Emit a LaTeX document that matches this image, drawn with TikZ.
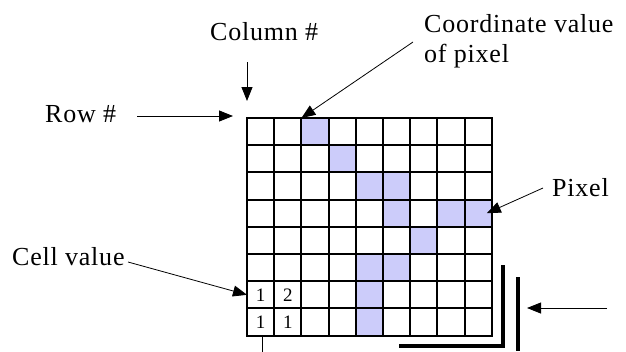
\documentclass[tikz,border=0pt]{standalone}
\usepackage{fontspec}
\setmainfont{Liberation Serif}
\newfontfamily\labelfont{Liberation Serif}[LetterSpace=3]
\usetikzlibrary{arrows.meta, positioning, backgrounds, calc}
\definecolor{pixelblue}{RGB}{204,204,250}

\begin{document}
\begin{tikzpicture}[
    x=1pt, y=-1pt,
    cellbox/.style={rectangle, minimum width=27.2pt, minimum height=27.2pt,
                    inner sep=0pt, outer sep=0pt},
    gridline/.style={line width=2pt, line cap=rect},
    digit/.style={inner sep=0pt, font=\fontsize{19}{19}\selectfont},
    caption/.style={anchor=base west, inner sep=0pt, align=left,
                    font=\labelfont\fontsize{26}{30}\selectfont},
    pointer/.style={-{Triangle[length=14pt,width=11pt]}, line width=0.8pt},
    heavy/.style={line width=3.6pt},
]
\useasboundingbox (0,0) rectangle (626,351);

% ==========================================================
% Raster grid: 9 columns x 8 rows
% ==========================================================
\foreach \i in {0,...,8}
  \foreach \j in {0,...,7}
    \node[cellbox] (c-\i-\j) at ({247+27.2*(\i+0.5)},{118+27.2*(\j+0.5)}) {};

% shaded pixels of the line
\foreach \i/\j in {2/0, 3/1, 4/2, 5/2, 5/3, 7/3, 8/3, 6/4,
                   4/5, 5/5, 4/6, 4/7}
  \fill[pixelblue] (c-\i-\j.south west) rectangle (c-\i-\j.north east);

% grid lines
\foreach \i in {0,...,8}
  \draw[gridline] (c-\i-0.north west) -- (c-\i-7.south west);
\draw[gridline] (c-8-0.north east) -- (c-8-7.south east);
\foreach \j in {0,...,7}
  \draw[gridline] (c-0-\j.north west) -- (c-8-\j.north east);
\draw[gridline] (c-0-7.south west) -- (c-8-7.south east);

% cell values
\node[digit] at (c-0-6) {1};
\node[digit] at (c-1-6) {2};
\node[digit] at (c-0-7) {1};
\node[digit] at (c-1-7) {1};

% short tick below the first column
\coordinate (tickend) at ($(c-0-7.south)+(1.5,16)$);
\draw[line width=1pt] ($(c-0-7.south)+(1.5,0)$) -- (tickend);

% ==========================================================
% Labels and pointers
% ==========================================================
\node[caption] (colhead) at (210,40) {Column \#};
\coordinate (coltail) at (247,62);
\coordinate (coltip)  at (247,101);
\draw[pointer] (coltail) -- (coltip);

\node[caption] (rowhead) at (45,122) {Row \#};
\coordinate (rowtail) at (137,116);
\coordinate (rowtip)  at (233,116);
\draw[pointer] (rowtail) -- (rowtip);

\node[caption] (coordlabel) at (424,62) {Coordinate value\\of pixel};
\coordinate (coordtail) at (413,42);
\draw[pointer] (coordtail) -- (c-2-0.north west);

\node[caption] (pixellabel) at (552,196) {Pixel};
\coordinate (pixeltail) at (543,188);
\draw[pointer] (pixeltail) -- ($(c-8-3.east)+(-5,0)$);

\node[caption] (celllabel) at (12,265) {Cell value};
\coordinate (celltail) at (128,262);
\draw[pointer] (celltail) -- (c-0-6.west);

% ==========================================================
% Heavy edge marks at the lower right
% ==========================================================
\coordinate (edgecorner) at (503,346);
\draw[heavy] (503,265) -- (edgecorner) -- (399,346);
\coordinate (edgebar) at (518,277);
\draw[heavy] (edgebar) -- (518,351);
\coordinate (sidetail) at (607,308);
\coordinate (sidetip)  at (527,308);
\draw[pointer] (sidetail) -- (sidetip);

\end{tikzpicture}
\end{document}
